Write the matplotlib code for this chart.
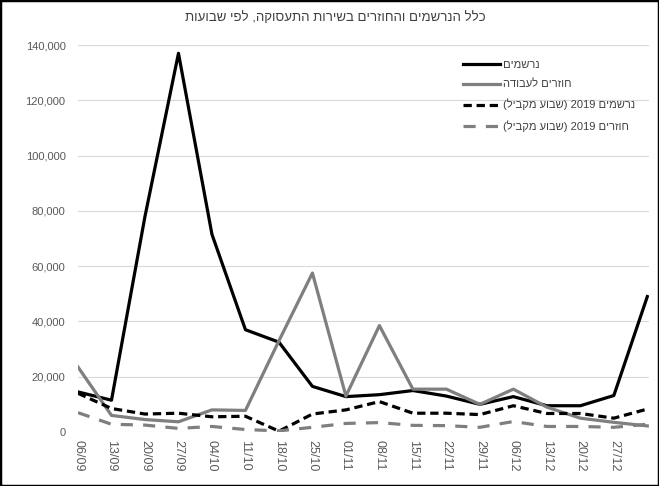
import matplotlib
matplotlib.use("Agg")
import matplotlib.pyplot as plt
from matplotlib.patches import Rectangle
import re

plt.rcParams['font.family'] = ['Liberation Sans', 'DejaVu Sans']

weeks = ["06/09", "13/09", "20/09", "27/09", "04/10", "11/10", "18/10", "25/10",
         "01/11", "08/11", "15/11", "22/11", "29/11", "06/12", "13/12", "20/12",
         "27/12", ""]

registered = [14500, 11500, 78000, 137000, 71500, 37000, 32500, 16500, 12800,
              13500, 15000, 13000, 10000, 12800, 9500, 9500, 13200, 49000]
returned = [23500, 6000, 4500, 3700, 8000, 7800, 33000, 57500, 13000,
            38500, 15500, 15500, 10000, 15500, 9000, 5000, 3500, 2200]
registered_2019 = [14000, 8500, 6500, 6800, 5500, 5700, 300, 6500, 8000,
                   11000, 6800, 6800, 6300, 9500, 6700, 6700, 5000, 8300]
returned_2019 = [7000, 2800, 2500, 1300, 2000, 900, 400, 1700, 3100,
                 3400, 2400, 2300, 1700, 3800, 2000, 2000, 1700, 2800]

title = "כלל הנרשמים והחוזרים בשירות התעסוקה, לפי שבועות"
labels = ["נרשמים", "חוזרים לעבודה", "נרשמים 2019 (שבוע מקביל)", "חוזרים 2019 (שבוע מקביל)"]


def visual(s):
    """Convert logical RTL Hebrew text to visual LTR order for matplotlib."""
    r = s[::-1]
    r = r.translate(str.maketrans("()", ")("))
    r = re.sub(r"[0-9]+", lambda m: m.group(0)[::-1], r)
    return r


fig = plt.figure(figsize=(6.59, 4.86), dpi=100)
ax = fig.add_axes([78 / 659, 1 - 432 / 486, (649 - 78) / 659, (432 - 45) / 486])

x = list(range(len(weeks)))
ax.plot(x, registered, color="black", lw=2.3, label=visual(labels[0]), solid_joinstyle="round")
ax.plot(x, returned, color="#7f7f7f", lw=2.3, label=visual(labels[1]), solid_joinstyle="round")
ax.plot(x, registered_2019, color="black", lw=2.3, ls=(0, (2.6, 1.5)), label=visual(labels[2]))
ax.plot(x, returned_2019, color="#7f7f7f", lw=2.3, ls=(0, (3.8, 3.2)), label=visual(labels[3]))

ax.set_xlim(0, 17.05)
ax.set_ylim(0, 140000)
ax.set_yticks(range(0, 140001, 20000))
ax.set_yticklabels([f"{v:,}" for v in range(0, 140001, 20000)])
ax.set_xticks(x)
ax.set_xticklabels(weeks, rotation=270, fontsize=9, color="#595959")
ax.tick_params(axis="y", length=0, pad=9, labelsize=8, labelcolor="#595959")
ax.tick_params(axis="x", length=0, pad=6)
ax.grid(axis="y", color="#d9d9d9", lw=0.8)
ax.set_axisbelow(True)
for s in ax.spines.values():
    s.set_visible(False)

fig.text(335 / 659, 1 - 18 / 486, visual(title), ha="center", va="center",
         fontsize=9.5, color="#404040")

leg = fig.legend(loc="upper left", bbox_to_anchor=(453 / 659, 1 - 50 / 486),
                 frameon=False, fontsize=8, handlelength=3.3, labelspacing=0.85,
                 handletextpad=0.3)
for t in leg.get_texts():
    t.set_color("#404040")

fig.patches.append(Rectangle((0, 0), 1, 1, transform=fig.transFigure, fill=False,
                             edgecolor="black", lw=2.5, zorder=10))

fig.savefig("out.png", dpi=100)
